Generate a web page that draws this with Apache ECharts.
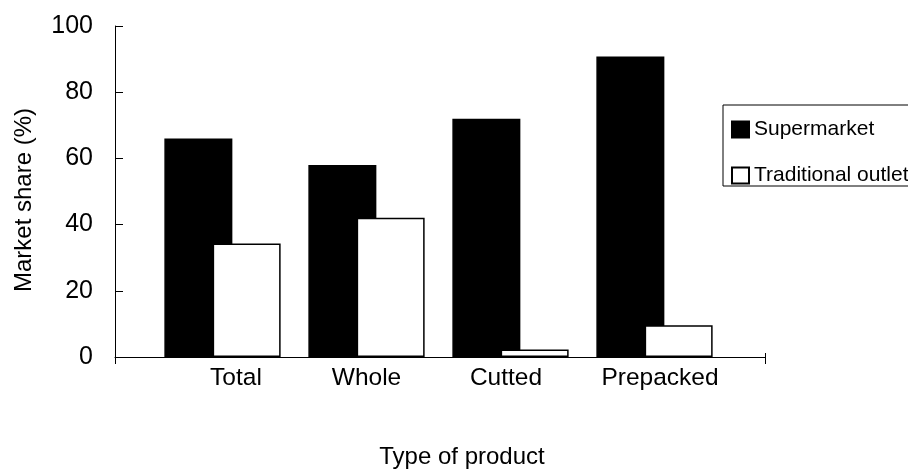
<!DOCTYPE html>
<html>
<head>
<meta charset="utf-8">
<script src="https://cdn.jsdelivr.net/npm/echarts@6/dist/echarts.min.js"></script>
<style>
  html, body { margin: 0; padding: 0; background: #fff; }
  #chart { width: 908px; height: 473px; }
</style>
</head>
<body>
<div id="chart"></div>
<script>
// Market share by product type and outlet
const categories = ['Total', 'Whole', 'Cutted', 'Prepacked'];
const supermarket = [66, 58, 72, 90.8];
const traditionalOutlet = [34.3, 42.1, 2.3, 9.6];
const yTicks = [0, 20, 40, 60, 80, 100];

const FONT = '"Liberation Sans", Arial, sans-serif';

const chart = echarts.init(document.getElementById('chart'), null, { renderer: 'canvas' });

// per-label nudges for the category names
const labelRich = {
  Total: { padding: [0, 0, 0, 27] },
  Whole: { padding: [0, 0, 0, 0] },
  Cutted: { padding: [0, 9, 0, 0] },
  Prepacked: { padding: [0, 0, 0, 11] }
};
Object.keys(labelRich).forEach(k => {
  labelRich[k].fontSize = 24.5;
  labelRich[k].fontFamily = FONT;
  labelRich[k].color = '#000';
});

chart.setOption({
  animation: false,
  backgroundColor: '#fff',
  textStyle: { fontFamily: FONT, color: '#000' },
  grid: [
    // frame: axis lines and y ticks
    { left: 115, top: 26, width: 650, height: 331 },
    // bar area
    { left: 150.5, top: 26, width: 576, height: 331 }
  ],
  xAxis: [
    {
      gridIndex: 0, type: 'value', min: 0, max: 1, interval: 1, position: 'bottom',
      axisLine: { show: true, lineStyle: { color: '#000', width: 1 } },
      axisTick: { show: true, inside: false, length: 7, lineStyle: { color: '#000' } },
      axisLabel: { show: false }, splitLine: { show: false }
    },
    {
      gridIndex: 1, type: 'category', data: categories, position: 'bottom',
      axisLine: { show: false }, axisTick: { show: false }, splitLine: { show: false },
      axisLabel: {
        margin: 9,
        interval: 0,
        formatter: v => '{' + v + '|' + v + '}',
        rich: labelRich
      }
    },
    {
      gridIndex: 0, type: 'value', min: 0, max: 1, interval: 1, position: 'bottom',
      axisLine: { show: false },
      axisTick: { show: true, inside: true, length: 4, lineStyle: { color: '#000' } },
      axisLabel: { show: false }, splitLine: { show: false }
    }
  ],
  yAxis: [
    {
      gridIndex: 0, type: 'value', min: yTicks[0], max: yTicks[yTicks.length - 1], interval: 20,
      axisLine: { show: true, lineStyle: { color: '#000', width: 1 } },
      axisTick: { show: true, inside: true, length: 8, lineStyle: { color: '#000' } },
      axisLabel: { margin: 22, fontSize: 25, color: '#000', fontFamily: FONT },
      splitLine: { show: false }
    },
    {
      gridIndex: 1, type: 'value', min: yTicks[0], max: yTicks[yTicks.length - 1],
      show: false, splitLine: { show: false }
    }
  ],
  legend: {
    orient: 'vertical',
    left: 723, top: 105,
    padding: [14, 30, 0, 8],
    itemGap: 25,
    itemWidth: 17, itemHeight: 16,
    icon: 'rect',
    borderColor: '#000', borderWidth: 1,
    textStyle: { fontSize: 21, color: '#000', fontFamily: FONT },
    data: ['Supermarket', 'Traditional outlet']
  },
  graphic: [
    {
      type: 'text', x: 24, y: 200, rotation: Math.PI / 2,
      style: { text: 'Market share (%)', fontSize: 24, fontFamily: FONT, fill: '#000',
               align: 'center', verticalAlign: 'middle' }
    },
    {
      type: 'text', x: 462, y: 457,
      style: { text: 'Type of product', fontSize: 24, fontFamily: FONT, fill: '#000',
               align: 'center', verticalAlign: 'middle' }
    }
  ],
  series: [
    {
      name: 'Supermarket', type: 'bar', xAxisIndex: 1, yAxisIndex: 1,
      data: supermarket, barWidth: 68, barGap: '-29%',
      itemStyle: { color: '#000', borderColor: '#000', borderWidth: 1.5 }
    },
    {
      name: 'Traditional outlet', type: 'bar', xAxisIndex: 1, yAxisIndex: 1,
      data: traditionalOutlet, barWidth: 68, barGap: '-29%',
      itemStyle: { color: '#fff', borderColor: '#000', borderWidth: 1.5 }
    }
  ]
});
</script>
</body>
</html>
